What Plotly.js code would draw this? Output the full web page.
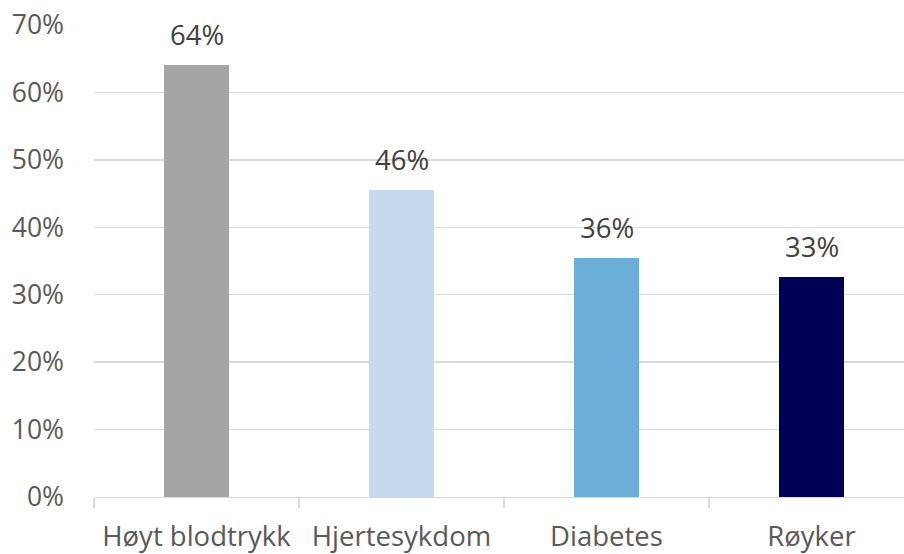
<!DOCTYPE html>
<html>
<head>
<meta charset="utf-8">
<script src="https://cdn.plot.ly/plotly-3.0.1.min.js"></script>
<style>html,body{margin:0;padding:0;background:#fff;}#chart{width:904px;height:554px;}</style>
</head>
<body>
<div id="chart"></div>
<script>
const categories = ['Høyt blodtrykk', 'Hjertesykdom', 'Diabetes', 'Røyker'];
const values = [64.1, 45.5, 35.5, 32.6];
const barColors = ['#a5a5a5', '#c5d9ef', '#6baed7', '#000056'];
const yTicks = [0, 10, 20, 30, 40, 50, 60, 70];

const font = 'Open Sans, Lato, sans-serif';

const trace = {
  type: 'bar',
  x: categories,
  y: values,
  width: 0.317,
  marker: {color: barColors},
  hoverinfo: 'none',
  cliponaxis: false
};

const annotations = categories.map((c, i) => ({
  x: c, y: values[i], xref: 'x', yref: 'y',
  text: Math.round(values[i]) + '%',
  showarrow: false, yanchor: 'bottom', yshift: 10,
  font: {family: font, size: 27.5, color: '#404040'}
}));

const layout = {
  width: 904, height: 554,
  margin: {l: 94, r: 0, t: 25, b: 57, pad: 0},
  paper_bgcolor: '#ffffff', plot_bgcolor: '#ffffff',
  showlegend: false,
  bargap: 0,
  xaxis: {
    range: [-0.5, 3.4512],
    tickson: 'boundaries',
    ticks: 'outside', ticklen: 10, tickwidth: 1.3, tickcolor: '#d9d9d9',
    showline: true, linecolor: '#d9d9d9', linewidth: 1.3,
    showgrid: false, zeroline: false,
    tickfont: {family: font, size: 27.5, color: '#595959'},
    ticklabelstandoff: 15
  },
  yaxis: {
    range: [0, 70],
    tickvals: yTicks,
    ticktext: yTicks.map(v => v + '%'),
    ticks: '',
    showline: false,
    showgrid: true, gridcolor: '#d9d9d9', gridwidth: 1.3,
    zeroline: false,
    tickfont: {family: font, size: 26.5, color: '#595959'},
    ticklabelstandoff: 29
  },
  annotations: annotations
};

Plotly.newPlot('chart', [trace], layout, {displayModeBar: false, staticPlot: true});
</script>
</body>
</html>
